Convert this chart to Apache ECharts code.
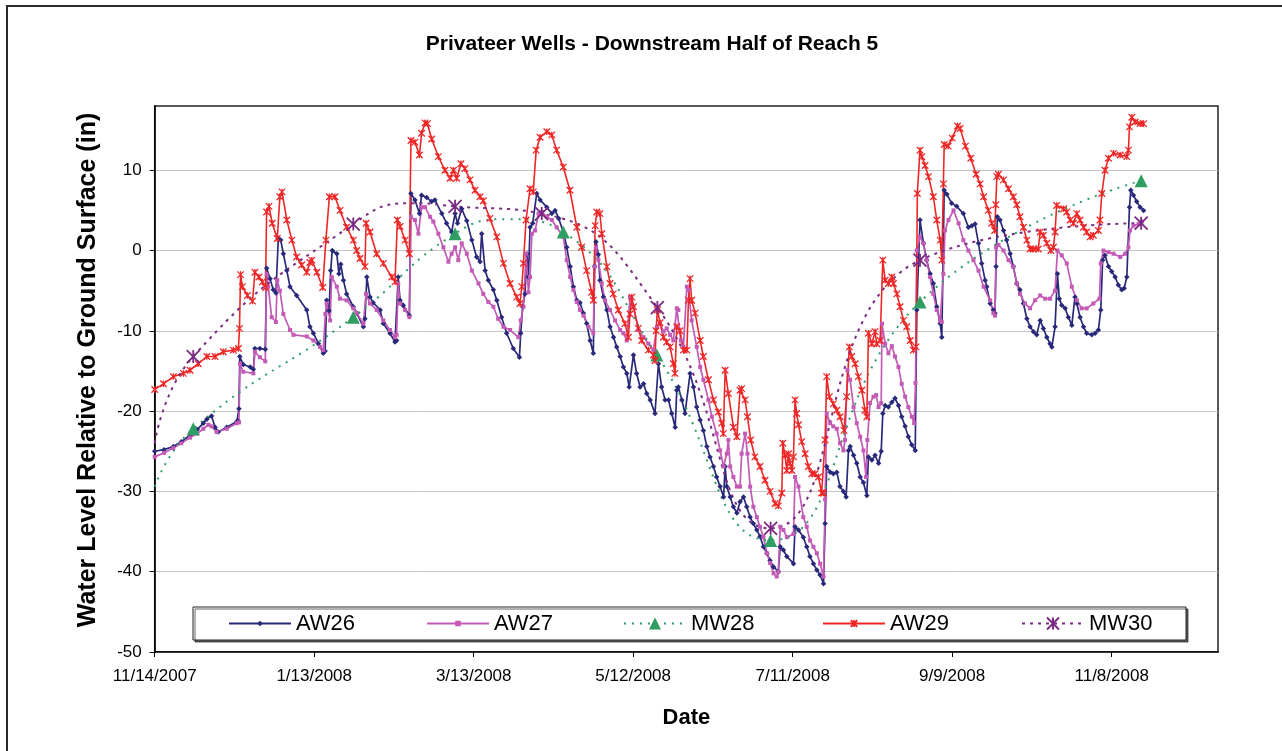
<!DOCTYPE html>
<html>
<head>
<meta charset="utf-8">
<title>Privateer Wells - Downstream Half of Reach 5</title>
<script src="https://cdn.jsdelivr.net/npm/echarts/dist/echarts.min.js"></script>
<style>
html, body { margin: 0; padding: 0; background: #fff; }
#chart { width: 1282px; height: 751px; }
</style>
</head>
<body>
<div id="chart"></div>
<script>
// x values are days after 11/14/2007, y values are inches
var startDate = Date.UTC(2007, 10, 14);

var aw26 = [[0,-25.0],[3.5,-24.8],[7.0,-24.4],[10,-23.8],[13.3,-23.0],[16,-22.3],[18.3,-21.5],[19.6,-21.0],[21.4,-20.6],[22.7,-22.0],[23.9,-22.6],[27.1,-22.0],[30.9,-21.3],[31.5,-21.3],[31.7,-19.7],[32.0,-13.2],[33.3,-14.2],[35.9,-14.5],[37.1,-14.8],[37.7,-12.2],[39.6,-12.2],[41.6,-12.3],[42.1,-2.2],[43.4,-3.5],[44.6,-4.9],[45.6,-5.3],[46.5,1.5],[47.4,1.3],[48.4,-0.4],[49.7,-2.5],[50.9,-4.5],[53.4,-5.6],[57.2,-7.4],[58.4,-9.5],[59.7,-10.3],[61.6,-11.6],[63.4,-12.8],[64.1,-12.5],[64.7,-6.2],[65.6,-7.5],[66.2,-2.5],[66.8,0],[68.5,-0.4],[69.3,-2.9],[70.0,-1.7],[71.0,-3.7],[72.2,-5.4],[74.7,-7.0],[76.0,-7.8],[78.5,-9.5],[79.1,-8.5],[79.8,-3.3],[81.0,-5.8],[82.2,-6.5],[84.8,-7.4],[86.0,-9.1],[88.5,-10.3],[90.4,-11.4],[91.0,-11.2],[91.6,-3.3],[92.3,-6.2],[93.5,-6.8],[95.8,-8.1],[96.4,7.1],[97.9,6.3],[99.6,4.6],[100.4,6.9],[102.3,6.6],[104.2,6.1],[105.4,6.3],[108.0,4.6],[109.8,3.4],[111.7,2.3],[113.0,4.6],[113.9,3.4],[115.5,5.2],[117.4,3.7],[119.3,1.3],[121.1,-0.8],[122.4,-1.4],[123.0,2.1],[124.3,-2.5],[125.5,-3.7],[127.4,-4.9],[128.7,-6.2],[130.5,-8.3],[132.4,-10.3],[134.9,-12.2],[137.2,-13.3],[137.7,-10.3],[138.4,-7.0],[139.3,-5.4],[140.0,-0.4],[140.6,-3.3],[141.2,2.9],[142.2,3.4],[143.7,7.1],[145.0,6.3],[147.5,5.4],[149.4,4.6],[150.6,5.0],[152.0,4.0],[154.0,2.0],[155.0,0.4],[156.3,-2.0],[157.5,-4.5],[158.8,-6.2],[160.0,-6.5],[161.3,-7.8],[162.5,-9.1],[163.8,-11.2],[165.0,-12.8],[165.5,-2.0],[166.0,1.1],[166.9,-0.5],[167.5,-3.7],[168.8,-5.8],[170.1,-7.4],[171.3,-9.5],[172.6,-10.8],[173.8,-12.0],[175.1,-13.2],[176.3,-14.5],[177.6,-15.3],[178.5,-17.0],[180.1,-13.0],[181.3,-15.3],[182.6,-17.0],[183.9,-16.6],[185.1,-17.8],[186.4,-18.6],[188.2,-20.3],[189.5,-14.1],[190.7,-17.0],[192.0,-18.6],[193.3,-18.6],[194.5,-20.3],[195.8,-22.0],[196.4,-17.4],[197.0,-17.0],[198.3,-18.6],[199.5,-20.3],[201.4,-15.3],[202.7,-17.0],[203.9,-19.5],[205.2,-21.1],[206.4,-22.4],[207.7,-24.4],[208.9,-25.7],[210.2,-26.9],[211.4,-28.2],[212.7,-29.4],[214.0,-30.7],[214.6,-26.9],[215.2,-29.4],[216.5,-30.7],[217.7,-31.9],[219.0,-32.7],[220.2,-31.3],[221.5,-30.7],[222.7,-31.9],[224.0,-33.2],[225.2,-34.0],[226.5,-34.8],[227.7,-35.6],[229.0,-36.9],[230.3,-37.7],[231.5,-38.6],[232.8,-39.4],[234.6,-40.0],[235.3,-36.9],[236.5,-37.3],[237.8,-38.1],[240.3,-39.0],[240.9,-34.4],[242.2,-34.8],[244.0,-35.7],[245.3,-36.9],[246.5,-38.1],[247.8,-39.0],[249.1,-39.8],[250.3,-40.4],[251.6,-41.5],[252.2,-34.0],[252.8,-26.9],[254.1,-27.6],[255.3,-27.8],[256.6,-27.6],[257.8,-29.4],[259.1,-30.0],[260.1,-30.7],[261.0,-24.9],[261.6,-24.4],[262.9,-25.5],[264.1,-26.5],[265.4,-28.2],[266.6,-28.9],[267.9,-30.5],[268.5,-25.7],[269.8,-26.1],[271.0,-25.5],[272.3,-26.5],[273.3,-25.0],[273.9,-20.3],[274.8,-19.3],[276.0,-19.5],[277.3,-18.9],[278.5,-18.4],[279.8,-19.3],[281.0,-20.7],[282.3,-21.9],[283.5,-23.2],[284.8,-24.2],[286.1,-24.9],[286.7,-7.4],[287.9,3.8],[289.2,0.9],[290.4,-1.2],[291.7,-2.9],[292.9,-4.1],[294.2,-7.0],[295.5,-9.1],[296.1,-10.8],[297.0,7.5],[298.0,7.0],[299.8,5.9],[301.7,5.5],[304.2,4.6],[306.1,2.9],[307.4,3.1],[308.6,3.3],[309.9,0.9],[311.1,-1.6],[312.4,-3.7],[313.0,-4.5],[314.3,-6.6],[315.5,-7.4],[316.1,-7.8],[316.5,-2.0],[317.0,4.2],[318.0,3.8],[319.3,2.5],[320.5,1.3],[321.8,-0.4],[323.0,-2.0],[324.3,-4.1],[325.5,-4.9],[326.8,-6.6],[328.1,-8.5],[329.3,-9.5],[330.6,-10.1],[331.8,-10.5],[333.1,-8.7],[334.3,-9.7],[335.6,-10.8],[336.8,-11.6],[337.5,-12.0],[338.7,-9.5],[339.6,-2.9],[340.3,-6.0],[341.2,-6.8],[342.5,-7.2],[343.7,-8.3],[345.0,-9.3],[346.2,-5.8],[346.9,-6.6],[348.1,-8.3],[349.4,-9.5],[350.6,-10.3],[352.5,-10.5],[353.8,-10.3],[355.0,-9.9],[355.9,-7.4],[356.6,-1.2],[357.5,-0.6],[358.8,-2.0],[360.0,-2.6],[361.3,-3.3],[362.5,-4.3],[363.8,-4.9],[364.7,-4.7],[365.7,-3.3],[366.7,5.4],[367.2,7.5],[368.2,6.9],[369.4,6.1],[370.7,5.4],[372.0,5.0]];

var aw27 = [[0,-25.7],[3.5,-25.2],[7.0,-24.6],[10,-24.0],[13.3,-23.3],[16,-22.8],[18.3,-22.2],[20.2,-21.7],[21.4,-21.9],[23.3,-22.6],[27.1,-22.2],[30.9,-21.5],[31.7,-21.4],[32.1,-14.1],[33.3,-15.1],[37.1,-15.3],[37.7,-12.6],[39.6,-13.3],[41.6,-13.8],[42.1,-2.9],[42.7,-4.5],[44.0,-8.3],[45.6,-8.9],[46.1,-3.7],[47.1,-5.0],[48.4,-7.9],[50.9,-9.9],[52.2,-10.5],[57.2,-10.7],[59.7,-11.2],[62.2,-12.0],[63.4,-12.4],[64.2,-7.9],[64.7,-6.6],[66.0,-8.7],[66.6,-3.3],[68.5,-4.5],[69.7,-6.0],[72.2,-6.2],[74.7,-7.2],[76.0,-7.8],[78.5,-9.1],[79.5,-5.4],[81.0,-6.6],[83.5,-7.4],[86.0,-8.7],[88.5,-9.9],[90.4,-10.8],[91.0,-10.5],[91.6,-4.1],[92.3,-6.6],[94.2,-7.4],[95.8,-8.3],[96.4,4.2],[97.9,3.8],[99.2,2.1],[100.4,5.4],[101.7,5.4],[103.6,4.2],[104.8,3.6],[106.7,2.1],[108.6,0.4],[110.5,-1.4],[111.7,-0.4],[113.0,0.4],[114.2,-1.2],[115.5,0.9],[117.4,-0.4],[119.3,-2.5],[121.8,-4.1],[123.6,-5.4],[125.5,-6.4],[127.4,-7.0],[129.2,-8.5],[131.2,-9.5],[133.7,-9.9],[136.8,-10.8],[137.7,-8.7],[138.7,-7.0],[139.7,-0.4],[140.6,-5.2],[141.2,-3.3],[141.9,2.1],[143.1,2.5],[144.4,4.6],[145.6,4.8],[147.5,4.2],[149.4,3.8],[151.2,2.9],[153.7,1.7],[155.0,-1.2],[156.3,-3.3],[157.5,-4.9],[158.8,-6.4],[160.0,-7.4],[161.3,-8.1],[163.2,-9.5],[165.0,-10.3],[165.5,-2.0],[166.0,0.4],[166.9,-1.2],[168.2,-4.1],[169.4,-6.2],[171.3,-7.4],[173.2,-8.7],[175.1,-9.9],[176.3,-10.3],[177.6,-11.2],[178.8,-5.8],[180.1,-7.0],[182.0,-9.9],[183.9,-10.8],[185.7,-11.6],[187.6,-12.4],[188.9,-9.5],[190.1,-9.1],[191.4,-10.1],[192.6,-9.7],[193.9,-10.5],[195.1,-11.2],[196.4,-7.2],[197.0,-7.4],[197.9,-11.2],[198.9,-12.0],[200.2,-4.5],[200.8,-4.9],[202.0,-8.7],[203.9,-12.0],[205.2,-14.5],[206.4,-16.1],[208.3,-18.6],[209.6,-20.7],[211.4,-22.8],[212.7,-24.9],[214.0,-26.9],[215.2,-25.3],[215.8,-23.6],[216.5,-26.9],[217.7,-28.2],[219.0,-29.4],[220.2,-29.4],[220.8,-25.3],[222.1,-22.8],[223.0,-25.3],[224.0,-29.4],[225.2,-31.9],[226.5,-33.2],[227.7,-34.4],[229.0,-35.7],[230.3,-37.7],[231.5,-38.9],[232.8,-40.2],[234.0,-40.6],[234.6,-40.0],[235.3,-34.4],[236.5,-34.8],[237.8,-35.7],[240.3,-35.3],[240.9,-28.2],[242.2,-29.4],[244.0,-33.2],[245.3,-34.4],[246.5,-36.1],[247.8,-36.9],[249.1,-37.7],[250.3,-39.0],[251.6,-40.6],[252.2,-31.0],[252.8,-20.3],[254.1,-21.5],[255.3,-21.9],[256.6,-22.2],[257.8,-24.0],[259.1,-24.9],[259.7,-23.6],[260.6,-14.9],[261.6,-16.1],[262.9,-19.5],[264.1,-21.5],[265.4,-23.2],[266.6,-24.9],[267.6,-28.2],[268.1,-23.6],[269.1,-19.0],[270.4,-18.2],[271.4,-18.0],[272.3,-19.5],[273.3,-19.0],[273.6,-9.1],[274.8,-11.6],[276.0,-12.8],[277.3,-11.9],[278.5,-13.2],[279.8,-14.5],[281.0,-16.6],[282.3,-18.2],[283.5,-19.5],[284.8,-20.7],[285.7,-21.5],[286.2,-16.5],[286.7,0],[287.9,1.7],[289.2,0.9],[290.4,-1.2],[291.7,-3.3],[292.9,-5.4],[294.2,-7.4],[295.5,-8.7],[296.1,-8.9],[296.7,-2.9],[297.3,2.5],[298.6,3.8],[300.5,5.0],[302.4,3.4],[304.2,1.3],[306.1,0],[308.0,-1.2],[309.9,-2.5],[311.8,-4.5],[314.3,-6.2],[315.5,-7.8],[316.1,-8.1],[316.5,0.4],[317.4,0.7],[319.3,0],[321.2,-1.2],[323.0,-2.0],[324.3,-4.1],[325.5,-5.4],[327.4,-6.6],[329.3,-7.2],[331.2,-6.2],[333.1,-5.6],[335.0,-6.0],[336.8,-6.0],[338.7,-5.0],[339.6,0],[341.2,-0.6],[343.1,-1.6],[345.0,-4.5],[346.9,-6.2],[348.7,-7.2],[350.6,-7.2],[353.1,-6.6],[355.4,-6.0],[355.9,-1.6],[356.9,0],[358.8,-0.2],[360.7,-0.4],[363.2,-0.8],[365.1,-0.4],[366.3,0.4],[366.9,2.5],[368.2,3.1],[370.1,3.3],[371.3,3.6]];

var aw29 = [[0,-17.3],[3.3,-16.6],[7.0,-15.7],[10.8,-15.3],[13.3,-14.9],[16.4,-14.1],[19.6,-13.2],[22.7,-13.2],[25.8,-12.6],[29.6,-12.4],[31.5,-12.2],[31.9,-9.7],[32.3,-3.0],[33.0,-4.5],[34.9,-5.6],[36.8,-6.3],[37.7,-2.7],[39.2,-3.3],[40.5,-3.9],[41.7,-4.6],[42.1,4.8],[43.0,5.5],[44.2,3.4],[46.1,1.5],[47.1,6.7],[47.9,7.3],[49.7,3.8],[51.6,1.3],[53.4,-0.8],[55.3,-1.8],[57.2,-2.7],[58.4,-1.5],[59.1,-1.2],[61.0,-2.7],[63.2,-4.6],[64.4,1.3],[65.7,6.7],[67.8,6.7],[69.7,5.0],[72.2,2.9],[74.7,1.3],[76.0,0],[77.2,-1.0],[79.1,-2.0],[79.5,3.4],[81.0,2.3],[83.5,-0.4],[86.0,-1.6],[89.2,-3.3],[90.4,-3.9],[91.3,3.8],[92.3,3.0],[94.2,1.3],[95.8,-0.4],[96.4,13.7],[97.9,13.5],[99.6,11.9],[100.4,14.6],[101.7,15.9],[102.6,15.8],[104.2,13.9],[106.7,11.7],[109.2,10.0],[111.1,9.0],[112.4,10.0],[113.6,9.0],[115.2,10.8],[116.7,10.2],[118.6,8.8],[120.5,7.5],[122.4,6.7],[123.6,6.2],[126.1,4.0],[128.7,1.7],[131.2,-1.6],[133.7,-4.1],[136.2,-5.8],[137.4,-6.6],[138.1,-4.5],[138.7,-1.6],[139.7,3.8],[141.2,7.7],[142.4,7.3],[143.5,12.5],[145.0,14.1],[147.5,14.8],[149.4,14.4],[151.2,12.5],[153.7,10.4],[156.2,7.5],[158.8,2.9],[160.6,0.4],[162.5,-2.5],[164.4,-5.2],[165.0,-6.2],[165.7,3.1],[166.3,4.8],[167.5,4.6],[168.2,2.1],[170.1,-2.0],[171.3,-4.1],[172.5,-5.4],[174.4,-7.4],[176.9,-9.1],[178.2,-10.8],[178.8,-7.9],[179.5,-5.8],[180.1,-7.0],[181.9,-9.7],[183.2,-11.2],[185.7,-12.4],[187.6,-13.0],[188.2,-13.7],[188.6,-10.0],[189.1,-7.4],[190.1,-9.0],[191.4,-10.8],[192.6,-11.4],[193.9,-12.0],[195.1,-14.1],[195.7,-15.3],[196.4,-9.5],[197.6,-10.0],[198.9,-12.4],[200.2,-12.4],[200.8,-6.2],[201.4,-3.5],[202.0,-6.2],[203.3,-7.8],[205.2,-11.2],[206.4,-13.2],[208.3,-16.1],[210.2,-18.6],[212.0,-20.1],[213.3,-21.5],[213.9,-22.8],[214.6,-14.9],[215.8,-17.8],[217.7,-22.0],[219.0,-23.2],[220.2,-17.4],[220.8,-17.2],[222.1,-18.6],[223.0,-20.7],[224.2,-23.6],[225.8,-25.7],[227.7,-26.9],[229.6,-28.6],[231.5,-30.0],[233.4,-31.5],[234.6,-31.8],[235.9,-30.2],[236.3,-24.0],[237.1,-25.5],[237.8,-27.4],[238.4,-25.3],[239.0,-26.5],[239.7,-27.4],[240.3,-25.7],[240.9,-18.6],[241.5,-20.3],[242.2,-21.7],[243.4,-23.8],[244.7,-25.3],[245.9,-26.9],[247.2,-27.8],[248.4,-27.8],[249.7,-28.2],[250.9,-30.2],[251.6,-30.2],[252.2,-23.6],[252.8,-15.7],[253.8,-18.2],[255.3,-19.1],[256.6,-19.9],[257.8,-20.7],[259.3,-22.4],[260.3,-18.2],[261.3,-12.0],[262.2,-13.2],[263.5,-14.1],[264.7,-15.7],[266.0,-17.4],[267.2,-19.9],[267.9,-20.7],[268.5,-10.3],[269.8,-11.6],[271.0,-10.1],[271.6,-11.6],[272.9,-11.2],[273.9,-1.2],[274.8,-3.7],[276.0,-4.1],[277.3,-3.3],[277.9,-4.1],[279.2,-5.4],[280.4,-7.0],[281.7,-8.7],[282.9,-9.5],[284.2,-11.2],[285.4,-12.4],[286.4,-12.0],[286.9,7.1],[287.9,12.5],[288.6,11.7],[289.8,10.6],[291.1,9.2],[292.9,6.7],[294.2,3.8],[295.5,1.3],[296.1,-1.2],[296.7,8.3],[297.0,13.2],[298.5,13.0],[300.0,14.0],[302.0,15.5],[303.0,15.2],[305.0,13.0],[307.0,11.5],[309.0,9.5],[310.5,8.3],[311.8,6.7],[313.6,5.0],[314.9,3.4],[316.0,2.5],[316.4,5.7],[316.8,9.2],[317.4,9.5],[319.3,8.8],[321.2,7.7],[323.0,6.7],[324.3,5.7],[325.5,4.2],[326.8,2.9],[328.1,1.3],[329.3,0.2],[330.6,0.2],[332.4,0.2],[333.1,2.3],[334.3,1.9],[335.6,0.9],[337.1,0],[338.1,0.4],[338.7,2.3],[339.3,5.6],[341.9,5.2],[343.1,4.8],[344.4,3.8],[345.6,3.4],[346.9,4.6],[348.1,3.8],[349.4,2.9],[350.6,2.3],[351.9,1.7],[353.1,1.9],[355.0,2.5],[355.6,3.8],[356.3,7.1],[357.5,10.0],[358.8,11.5],[360.7,12.1],[363.2,11.9],[365.7,11.7],[366.3,12.5],[366.7,15.4],[367.6,16.6],[368.8,16.0],[370.7,15.8],[372.0,15.8]];

// monitoring wells; a third element 0 marks a point (no marker)
var mw28 = [[0,-29.4,0],[14.5,-22.2],[74.7,-8.3],[113.0,2.1],[133.0,3.9,0],[153.7,2.3],[188.9,-13.0],[231.7,-36.1],[287.9,-6.4],[371.1,8.7]];
var mw30 = [[0,-24.0,0],[14.5,-13.2],[74.7,3.3],[97.0,5.9,0],[113.0,5.5],[145.6,4.6],[189.1,-7.1],[231.7,-34.6],[287.9,-1.2],[371.1,3.4]];

var xTicks = [0, 60, 120, 180, 240, 300, 360];
var yTicks = [-50, -40, -30, -20, -10, 0, 10];

var chartDom = document.getElementById('chart');
var myChart = echarts.init(chartDom, null, { renderer: 'canvas' });

var starPath = 'path://M0,0L10,10M10,0L0,10M5,0L5,10';
var font = 'Liberation Sans, Arial, sans-serif';

function dayLabel(d) {
	var dt = new Date(startDate + d * 86400000);
	return (dt.getUTCMonth() + 1) + '/' + dt.getUTCDate() + '/' + dt.getUTCFullYear();
}

function curvePoints(arr) {
	return arr.map(function(p) {
		return p[2] === 0 ? { value: [p[0], p[1]], symbol: 'none' } : [p[0], p[1]];
	});
}

function legendItem(name, left, h) {
	return {
		data: [name],
		left: left,
		top: 612.5,
		padding: 0,
		itemWidth: 62,
		itemHeight: h,
		selectedMode: false,
		textStyle: { fontSize: 22, color: '#000', fontFamily: font },
		z: 10
	};
}

var option = {
	animation: false,
	backgroundColor: '#fff',
	textStyle: { fontFamily: font },
	title: {
		text: 'Privateer Wells - Downstream Half of Reach 5',
		left: 647,
		top: 29,
		textAlign: 'center',
		textStyle: { fontSize: 21, fontWeight: 'bold', color: '#000', fontFamily: font }
	},
	graphic: [
		{ type: 'rect', shape: { x: 7, y: 6, width: 1300, height: 780 }, style: { fill: 'none', stroke: '#2a2a2a', lineWidth: 2 }, z: 0, silent: true },
		{ type: 'rect', shape: { x: 193, y: 607, width: 993, height: 33 }, style: { fill: '#fff', stroke: '#222', lineWidth: 1, shadowColor: 'rgba(0,0,0,0.6)', shadowOffsetX: 2, shadowOffsetY: 2 }, z: 9, silent: true }
	],
	legend: [
		legendItem('AW26', 228, 7),
		legendItem('AW27', 426, 7),
		legendItem('MW28', 623, 15),
		legendItem('AW29', 822, 8),
		legendItem('MW30', 1021, 15)
	],
	grid: {
		left: 154.7,
		right: 64,
		top: 106,
		bottom: 99,
		show: true,
		borderColor: '#222',
		borderWidth: 1.5,
		backgroundColor: '#fff',
		containLabel: false,
		outerBoundsMode: 'none'
	},
	xAxis: {
		type: 'value',
		min: 0,
		max: 400,
		interval: 60,
		name: 'Date',
		nameLocation: 'middle',
		nameGap: 55,
		nameTextStyle: { fontSize: 22, fontWeight: 'bold', color: '#000', fontFamily: font },
		axisLine: { onZero: false, lineStyle: { color: '#000', width: 1.5 } },
		axisTick: { show: true, inside: false, length: 5, customValues: xTicks, lineStyle: { color: '#000' } },
		axisLabel: { formatter: dayLabel, customValues: xTicks, fontSize: 17, color: '#000', margin: 16 },
		splitLine: { show: false }
	},
	yAxis: {
		type: 'value',
		min: -50,
		max: 18,
		interval: 10,
		name: 'Water Level Relative to Ground Surface (in)',
		nameLocation: 'middle',
		nameGap: 54,
		nameTextStyle: { fontSize: 25, fontWeight: 'bold', color: '#000', fontFamily: font, padding: [0, 0, 0, 18] },
		axisLine: { show: true, onZero: false, lineStyle: { color: '#000', width: 1.5 } },
		axisTick: { show: true, inside: false, length: 5, customValues: yTicks, lineStyle: { color: '#000' } },
		axisLabel: { customValues: yTicks, fontSize: 17, color: '#000', margin: 13 },
		splitLine: { show: true, lineStyle: { color: '#c4c4c4', width: 1 } }
	},
	series: [
		{
			name: 'AW26', type: 'line', data: aw26,
			symbol: 'diamond', symbolSize: 5.5,
			lineStyle: { color: '#29297a', width: 1.7 },
			itemStyle: { color: '#29297a' },
			emphasis: { disabled: true }
		},
		{
			name: 'AW27', type: 'line', data: aw27,
			symbol: 'rect', symbolSize: 4,
			lineStyle: { color: '#c25ab6', width: 1.7 },
			itemStyle: { color: '#c25ab6' },
			emphasis: { disabled: true }
		},
		{
			name: 'MW28', type: 'line', data: curvePoints(mw28),
			smooth: 0.5,
			symbol: 'triangle', symbolSize: 13,
			lineStyle: { color: '#2f9e62', width: 2, type: [2, 6] },
			itemStyle: { color: '#2f9e62' },
			emphasis: { disabled: true }
		},
		{
			name: 'AW29', type: 'line', data: aw29,
			symbol: starPath, symbolSize: 6.5,
			lineStyle: { color: '#ee2626', width: 1.6 },
			itemStyle: { color: '#ee2626', borderColor: '#ee2626', borderWidth: 1.3 },
			emphasis: { disabled: true }
		},
		{
			name: 'MW30', type: 'line', data: curvePoints(mw30),
			smooth: 0.5,
			symbol: starPath, symbolSize: 13,
			lineStyle: { color: '#7b2a83', width: 2, type: [3, 5] },
			itemStyle: { color: '#7b2a83', borderColor: '#7b2a83', borderWidth: 1.8 },
			emphasis: { disabled: true }
		}
	]
};

myChart.setOption(option);
</script>
</body>
</html>
